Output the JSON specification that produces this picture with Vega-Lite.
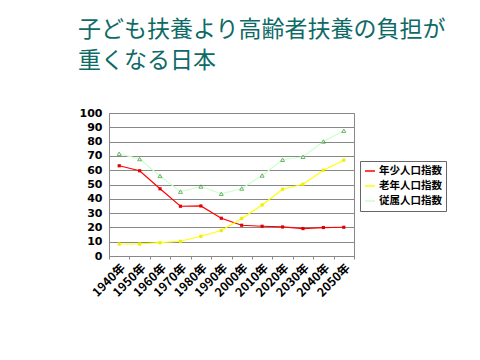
{
  "$schema": "https://vega.github.io/schema/vega-lite/v6.json",
  "width": 245,
  "height": 143,
  "autosize": {"type": "none"},
  "padding": {"left": 109, "top": 113, "right": 126, "bottom": 104},
  "background": "white",
  "title": {
    "text": ["子ども扶養より高齢者扶養の負担が", "重くなる日本"],
    "anchor": "start",
    "frame": "group",
    "dx": -31,
    "offset": 34,
    "font": "Noto Sans CJK JP",
    "fontSize": 23,
    "fontWeight": "normal",
    "lineHeight": 31,
    "color": "#0E6A66"
  },
  "config": {
    "view": {"stroke": "#888888", "strokeWidth": 1},
    "font": "Liberation Sans"
  },
  "data": {
    "values": [
      {"year": "1940年", "series": "年少人口指数", "value": 63.1},
      {"year": "1950年", "series": "年少人口指数", "value": 59.6},
      {"year": "1960年", "series": "年少人口指数", "value": 47.0},
      {"year": "1970年", "series": "年少人口指数", "value": 34.8},
      {"year": "1980年", "series": "年少人口指数", "value": 35.0},
      {"year": "1990年", "series": "年少人口指数", "value": 26.4},
      {"year": "2000年", "series": "年少人口指数", "value": 21.5},
      {"year": "2010年", "series": "年少人口指数", "value": 20.8},
      {"year": "2020年", "series": "年少人口指数", "value": 20.3},
      {"year": "2030年", "series": "年少人口指数", "value": 19.2},
      {"year": "2040年", "series": "年少人口指数", "value": 19.9},
      {"year": "2050年", "series": "年少人口指数", "value": 20.1},
      {"year": "1940年", "series": "老年人口指数", "value": 8.4},
      {"year": "1950年", "series": "老年人口指数", "value": 8.4},
      {"year": "1960年", "series": "老年人口指数", "value": 9.3},
      {"year": "1970年", "series": "老年人口指数", "value": 10.3},
      {"year": "1980年", "series": "老年人口指数", "value": 13.8},
      {"year": "1990年", "series": "老年人口指数", "value": 17.8},
      {"year": "2000年", "series": "老年人口指数", "value": 26.2},
      {"year": "2010年", "series": "老年人口指数", "value": 35.7},
      {"year": "2020年", "series": "老年人口指数", "value": 46.7},
      {"year": "2030年", "series": "老年人口指数", "value": 50.2},
      {"year": "2040年", "series": "老年人口指数", "value": 60.0},
      {"year": "2050年", "series": "老年人口指数", "value": 67.0},
      {"year": "1940年", "series": "従属人口指数", "value": 71.5},
      {"year": "1950年", "series": "従属人口指数", "value": 67.8},
      {"year": "1960年", "series": "従属人口指数", "value": 56.0},
      {"year": "1970年", "series": "従属人口指数", "value": 45.0},
      {"year": "1980年", "series": "従属人口指数", "value": 48.6},
      {"year": "1990年", "series": "従属人口指数", "value": 43.5},
      {"year": "2000年", "series": "従属人口指数", "value": 47.2},
      {"year": "2010年", "series": "従属人口指数", "value": 56.3},
      {"year": "2020年", "series": "従属人口指数", "value": 67.3},
      {"year": "2030年", "series": "従属人口指数", "value": 69.4},
      {"year": "2040年", "series": "従属人口指数", "value": 80.1},
      {"year": "2050年", "series": "従属人口指数", "value": 87.6}
    ]
  },
  "encoding": {
    "x": {
      "field": "year",
      "type": "ordinal",
      "scale": {"type": "band", "paddingInner": 0, "paddingOuter": 0},
      "axis": {
        "title": null,
        "labelAngle": -45,
        "labelAlign": "right",
        "labelBaseline": "top",
        "labelFont": "Noto Sans CJK JP",
        "labelFontWeight": "bold",
        "labelFontSize": 12,
        "labelColor": "black",
        "labelPadding": 3,
        "labelOverlap": false,
        "tickBand": "extent",
        "tickSize": 3,
        "tickColor": "#888888",
        "domainColor": "#888888",
        "grid": false
      }
    },
    "y": {
      "field": "value",
      "type": "quantitative",
      "scale": {"domain": [0, 100], "nice": false},
      "axis": {
        "title": null,
        "values": [0, 10, 20, 30, 40, 50, 60, 70, 80, 90, 100],
        "labelFont": "DejaVu Sans",
        "labelFontWeight": "bold",
        "labelFontSize": 11,
        "labelColor": "black",
        "labelPadding": 7,
        "ticks": false,
        "domainColor": "#888888",
        "gridColor": "#888888",
        "gridOpacity": 1
      }
    }
  },
  "layer": [
    {
      "mark": {"type": "line", "strokeWidth": 1.2},
      "encoding": {
        "color": {
          "field": "series",
          "type": "nominal",
          "scale": {
            "domain": ["年少人口指数", "老年人口指数", "従属人口指数"],
            "range": ["#FF0000", "#FFFF00", "#CCFFCC"]
          },
          "legend": {
            "title": null,
            "orient": "none",
            "legendX": 251,
            "legendY": 48,
            "symbolType": "stroke",
            "symbolSize": 100,
            "symbolStrokeWidth": 1.5,
            "labelFont": "Noto Sans CJK JP",
            "labelFontWeight": "bold",
            "labelFontSize": 10.5,
            "labelColor": "black",
            "labelOffset": 3,
            "rowPadding": 3,
            "padding": 4,
            "strokeColor": "#666666",
            "fillColor": "white"
          }
        }
      }
    },
    {
      "transform": [{"filter": "datum.series !== '従属人口指数'"}],
      "mark": {"type": "point", "shape": "square", "filled": true, "size": 10, "opacity": 1},
      "encoding": {
        "color": {
          "field": "series",
          "type": "nominal",
          "scale": {
            "domain": ["年少人口指数", "老年人口指数"],
            "range": ["#E00000", "#EEEE00"]
          },
          "legend": null
        }
      }
    },
    {
      "transform": [{"filter": "datum.series === '従属人口指数'"}],
      "mark": {"type": "point", "shape": "triangle-up", "filled": false, "size": 16, "strokeWidth": 1, "color": "#339933"},
      "encoding": {}
    }
  ],
  "resolve": {"scale": {"color": "independent"}}
}
